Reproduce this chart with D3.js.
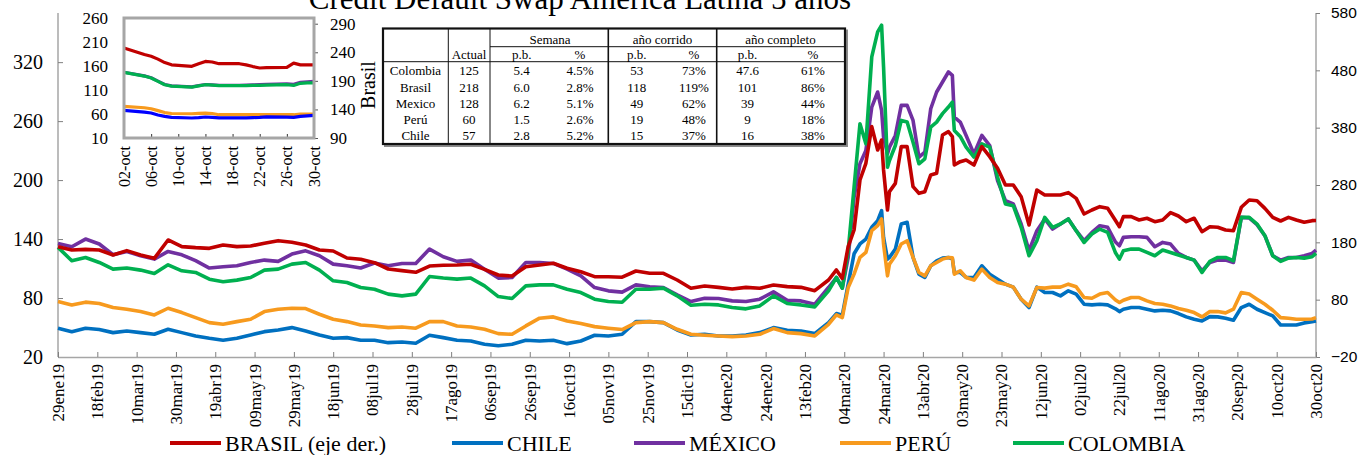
<!DOCTYPE html>
<html><head><meta charset="utf-8">
<script src="https://cdn.jsdelivr.net/npm/d3@7"></script>
<style>
body{margin:0;background:#fff}
svg{display:block}
text{font-family:"Liberation Serif","Times New Roman",serif;fill:#000}
</style>
</head><body>
<svg id="c" width="1360" height="455"></svg>
<script>
// ---------- DATA ----------
const dates = [
"2019-01-29","2019-02-05","2019-02-12","2019-02-19","2019-02-26","2019-03-05","2019-03-12","2019-03-19","2019-03-26","2019-04-02","2019-04-09","2019-04-16","2019-04-23","2019-04-30","2019-05-07","2019-05-14","2019-05-21","2019-05-28","2019-06-04","2019-06-11","2019-06-18",
"2019-06-25","2019-07-02","2019-07-09","2019-07-16","2019-07-23","2019-07-30","2019-08-06","2019-08-13","2019-08-20","2019-08-27","2019-09-03","2019-09-10","2019-09-17","2019-09-24","2019-10-01","2019-10-08","2019-10-15","2019-10-22","2019-10-29","2019-11-05","2019-11-12",
"2019-11-19","2019-11-26","2019-12-03","2019-12-10","2019-12-17","2019-12-24","2019-12-31","2020-01-07","2020-01-14","2020-01-21","2020-01-28","2020-02-04","2020-02-11","2020-02-18","2020-02-25","2020-02-29","2020-03-03",
"2020-03-06","2020-03-09","2020-03-12","2020-03-15","2020-03-18","2020-03-21","2020-03-23","2020-03-24","2020-03-26","2020-03-27","2020-03-30","2020-04-02","2020-04-05","2020-04-08","2020-04-11","2020-04-14","2020-04-17","2020-04-20","2020-04-23","2020-04-26","2020-04-28","2020-04-29","2020-05-02","2020-05-05","2020-05-09","2020-05-13","2020-05-17","2020-05-21","2020-05-25","2020-05-29","2020-06-02","2020-06-06","2020-06-10","2020-06-14","2020-06-18","2020-06-22","2020-06-26","2020-06-30","2020-07-04","2020-07-08","2020-07-12","2020-07-16","2020-07-20","2020-07-22",
"2020-07-24","2020-07-28","2020-08-01","2020-08-05","2020-08-09","2020-08-13","2020-08-17","2020-08-21","2020-08-25","2020-08-29","2020-09-02","2020-09-06","2020-09-10","2020-09-14","2020-09-18","2020-09-22","2020-09-26","2020-09-30","2020-10-04","2020-10-08","2020-10-12","2020-10-16","2020-10-20","2020-10-24","2020-10-28","2020-10-30"
];
// Brasil (right axis)
const brasil = [
172.5,166.6,167.8,166.6,157.9,165.5,157.9,152.1,184.1,172.5,170.7,169.5,175.4,172.5,173.6,178.3,182.9,180,175.4,166.6,164.9,
152.7,150.4,144.5,133.5,130.6,127.7,138.7,139.9,140.5,141.7,132.9,123,121.3,137.5,140.5,143.4,134.7,128.8,120.1,120.1,119.2,
130,126,126,114.3,99.8,103.8,101.5,98.6,101.5,99.8,105.6,102.7,101.5,95.7,114.3,131.8,117.2,
172.5,201.5,288.7,317.8,381.8,341,358.5,306.2,236.4,268.4,282.9,346.9,346.9,277.1,265.5,268.4,297.5,300.4,367.2,373,364.3,314.9,320.7,323.6,314.9,346.9,329.4,309.1,280,280,259.7,210.2,271.3,262.6,262.6,262.6,266.7,256.7,229.4,236.4,242.2,239.3,218,207.3,
224.8,224.8,219,222,216,219,231.7,225.9,216,222,198.6,207.3,206.2,201.5,200.3,241.1,253.9,252.6,239.3,223.6,217.2,223.6,219,214.9,217.8,218
];
const chile = [
49.3,45.8,49.3,47.9,44.8,46.5,44.8,43.1,48.2,44.8,41.4,39,37,39,42.4,45.8,47.5,49.9,46.5,42.4,39,
39.7,37,37,34.6,35.3,34,42.1,39.7,37,36.3,32.9,31.5,32.9,37,36.3,37,33.6,36.3,42.1,41.4,43.1,
56,56,55,47.5,42.4,43.1,41.4,41.4,42.4,44.8,49.9,47.2,46.5,43.8,55,64.2,62.5,
94.1,125,135,140,152,158.7,168.9,141.7,119.6,121.3,129.8,155.3,157,121.3,104.3,100.9,112.8,117.9,120.6,121.3,120,106,106,100.9,100.9,112.8,104.3,99.2,94.1,91.1,78.8,70.3,91.1,85.6,85.6,82.2,87.3,84,73.7,73,73.7,73,69,66.2,
68.6,70.3,70.3,68.6,66.9,67.6,66.9,64.2,60.8,58.4,56.7,61.1,60.8,59.5,57.4,70.3,73.7,68.6,65.2,61.8,52.6,52.6,52.6,54.7,56,56.7
];
const mexico = [
135.6,132.2,140,135,124,127.4,123,119.6,127.4,124,118,110.5,111.8,112.8,116.2,118.6,117.3,124.7,128,123,114.5,
112.8,110.5,115.6,112.8,115.2,115.2,129.8,122,117.3,118.6,109.4,100.3,100.9,116.2,116.2,115.2,109.4,102.6,90.7,87.3,86,
93.4,91.4,90.7,83.2,76.4,79.8,79.5,77.1,76.4,78.8,86.3,77.8,77.1,73.7,90.7,100.9,90,
121.3,182.5,216.6,230.1,274.3,289.6,270.9,243.7,226.7,233.5,245.4,276,276,260.7,223.3,228.4,272.6,289.6,299.8,310,306.6,264.1,259,245.4,226.7,245.4,235.2,199.5,179.1,175.7,155.3,128.1,148.5,160.4,150.2,155.3,160.4,148.5,138.3,146.8,153.6,151.9,137,133.2,
141.7,142.4,142.4,141.7,132.2,136.6,134.9,125.4,121.3,118.6,107.7,116.2,118.6,118.6,116.2,162.1,161.5,154.6,143.4,123,118.6,121.3,121.3,123,125.4,128.8
];
const peru = [
76.4,73,75.8,74.4,70.3,68.6,66.2,62.8,69.6,65.2,60.1,55,53.3,56,58.4,66.2,68.6,69.6,69.3,63.5,58.4,
56,52.6,51.6,49.9,50.6,49.3,56,56,51.6,50.6,48.2,43.8,43.1,51.6,59.5,60.8,56.7,54,50.9,49.3,47.9,
55,56,55,48.2,43.1,42.1,41.4,40.7,41.4,43.1,48.9,44.8,43.8,41.4,53.3,62.8,60.1,
90.7,104.3,121.3,126.4,148.5,153.6,160.4,135,102.6,114.5,123,135,138.3,121.3,106,102.6,112.8,116.2,119.6,121.3,121,104.3,107.7,100.9,98.2,109.4,100.9,95.8,94.1,91.1,78.8,72,90.7,90.1,91.1,91.1,94.1,91.4,80.5,79.8,84,85.6,78,75.4,
77.8,80.5,80.5,77.1,74.4,73.7,72,69.3,67.6,65.2,60.8,66.2,66.2,64.9,68.6,85.6,84,78.8,73.7,67.6,60.1,59.5,58.4,58.4,58.7,60.1
];
const colombia = [
131.5,118,121.3,116.2,109.4,110.5,108.4,105,113.8,107.7,106,99.2,96.5,98.2,100.9,108.4,109.4,114.5,116.2,108.4,97.5,
95.8,90.7,89,84,82.2,84,101.9,100.3,99.2,100.3,92.4,81.5,79.5,92.4,93.4,93.4,89,85.6,78.8,76.4,75.7,
89,89,90.1,82.2,72.7,73.7,73,70.3,69,72,82.2,74.4,73,71,87.3,100.9,90,
128.1,192.7,257.3,236.9,325.3,350.8,357.6,315.1,213.1,219.9,235.2,260.7,259,238.6,216.6,221.7,253.9,259,267.6,274.3,279.4,250.5,244.4,233.5,223.3,236.9,233.5,202.9,175.7,174,151.9,123,138.3,162.1,151.9,155.3,160.4,148.5,136.6,145.1,150.2,146.8,126,119.6,
128.1,129.8,129.8,126.4,123,128.8,126.4,123.7,121.3,118.6,106,117.3,121.3,121.3,117.9,162.1,162.1,155.3,143.4,123,117.3,120.6,121.3,120.6,122,125.4
];
const xTickDates = ["2019-01-29","2019-02-18","2019-03-10","2019-03-30","2019-04-19","2019-05-09","2019-05-29","2019-06-18","2019-07-08","2019-07-28","2019-08-17","2019-09-06","2019-09-26","2019-10-16","2019-11-05","2019-11-25","2019-12-15","2020-01-04","2020-01-24","2020-02-13","2020-03-04","2020-03-24","2020-04-13","2020-05-03","2020-05-23","2020-06-12","2020-07-02","2020-07-22","2020-08-11","2020-08-31","2020-09-20","2020-10-10","2020-10-30"];
const xTickLabels = ["29ene19","18feb19","10mar19","30mar19","19abr19","09may19","29may19","18jun19","08jul19","28jul19","17ago19","06sep19","26sep19","16oct19","05nov19","25nov19","15dic19","04ene20","24ene20","13feb20","04mar20","24mar20","13abr20","03may20","23may20","12jun20","02jul20","22jul20","11ago20","31ago20","20sep20","10oct20","30oct20"];
const leftTicks = [20,80,140,200,260,320];
const rightTicks = [-20,80,180,280,380,480,580];

// inset (October 2020)
const insetDates = ["2020-10-02","2020-10-05","2020-10-06","2020-10-07","2020-10-08","2020-10-09","2020-10-12","2020-10-13","2020-10-14","2020-10-15","2020-10-16","2020-10-19","2020-10-20","2020-10-21","2020-10-22","2020-10-23","2020-10-26","2020-10-27","2020-10-28","2020-10-29","2020-10-30"];
const insBrasil = [247.5,236,233,228,222,218,215.5,220,224,223,220,220,218,215,212.5,213,213.5,221,218,218,218];
const insColombia = [146.7,139,135,128,121,118,116,118.5,121,120,119,119,119,119.5,119.5,120,121,119.5,124,125,125];
const insMexico = [147,139.5,135.5,128.5,121.5,118.5,116.5,119,121.5,120.5,119.5,119.5,120,120.5,121,121.8,123,122,126,127,128];
const insPeru = [75.8,73,71,67,63,61,60.5,61.5,62,61,58.5,58.5,58.5,59,58.5,58.5,59,58.5,60,60,60];
const insChile = [67.5,64,62,58,55,53,51.7,52.5,53.7,53,52,52,52,52.5,53,54.2,53.5,53,55,56,57];
const insTickDates = ["2020-10-02","2020-10-06","2020-10-10","2020-10-14","2020-10-18","2020-10-22","2020-10-26","2020-10-30"];
const insTickLabels = ["02-oct","06-oct","10-oct","14-oct","18-oct","22-oct","26-oct","30-oct"];
const insLeftTicks = [10,60,110,160,210,260];
const insRightTicks = [90,140,190,240,290];

// table
const tblRows = ["Colombia","Brasil","Mexico","Perú","Chile"];
const tblActual = ["125","218","128","60","57"];
const tblSemPb = ["5.4","6.0","6.2","1.5","2.8"];
const tblSemPct = ["4.5%","2.8%","5.1%","2.6%","5.2%"];
const tblYtdPb = ["53","118","49","19","15"];
const tblYtdPct = ["73%","119%","62%","48%","37%"];
const tblYoyPb = ["47.6","101","39","9","16"];
const tblYoyPct = ["61%","86%","44%","18%","38%"];

const legendNames = ["BRASIL (eje der.)","CHILE","MÉXICO","PERÚ","COLOMBIA"];

// ---------- DRAW ----------
const parse = d3.utcParse("%Y-%m-%d");
const svg = d3.select("#c");
svg.append("rect").attr("width",1360).attr("height",455).attr("fill","#fff");

const colors = {brasil:"#C00000", chile:"#0070C0", mexico:"#7030A0", peru:"#F79A1E", colombia:"#00B050"};

const X0=58, X1=1316, Y0=357, Y1=13;
const x = d3.scaleUtc().domain([parse("2019-01-29"), parse("2020-10-30")]).range([X0,X1]);
const yL = d3.scaleLinear().domain([20,370]).range([Y0,Y1]);
const yR = d3.scaleLinear().domain([-20,580]).range([Y0,Y1]);

// title
svg.append("text").attr("x",580).attr("y",9).attr("text-anchor","middle")
  .style("font-size","31px").text("Credit Default Swap America Latina 5 años");

// axes
const gL = svg.append("g").attr("transform",`translate(${X0},0)`)
  .call(d3.axisLeft(yL).tickValues(leftTicks).tickSizeInner(-5).tickSizeOuter(0).tickPadding(15));
gL.selectAll("text").style("font-size","20px").style("font-family","'Liberation Serif',serif");
const gR = svg.append("g").attr("transform",`translate(${X1},0)`)
  .call(d3.axisRight(yR).tickValues(rightTicks).tickSizeInner(4).tickSizeOuter(0).tickPadding(11));
gR.selectAll("text").style("font-size","15.5px").style("font-family","'Liberation Sans',Arial,sans-serif");
const gB = svg.append("g").attr("transform",`translate(0,${Y0})`)
  .call(d3.axisBottom(x).tickValues(xTickDates.map(parse)).tickSizeInner(-5).tickSizeOuter(0).tickFormat(""));
[gL,gR,gB].forEach(g=>{
  g.select(".domain").attr("stroke","#a6a6a6").attr("stroke-width",1.5);
  g.selectAll(".tick line").attr("stroke","#7f7f7f");
});
gL.select(".domain").attr("d",`M0,${Y1}V${Y0}`);
gR.select(".domain").attr("d",`M0,${Y1}V${Y0}`);

svg.append("g").selectAll("text").data(xTickDates).join("text")
  .attr("transform",(d)=>`translate(${x(parse(d))},364) rotate(-90)`)
  .attr("text-anchor","end").attr("dy","0.35em")
  .style("font-size","17px")
  .text((d,i)=>xTickLabels[i]);

// series
const pts = arr => arr.map((v,i)=>({d:parse(dates[i]), v}));
const lineL = d3.line().x(p=>x(p.d)).y(p=>yL(p.v));
const lineR = d3.line().x(p=>x(p.d)).y(p=>yR(p.v));
const seriesL = [["chile",chile],["mexico",mexico],["peru",peru],["colombia",colombia]];
seriesL.forEach(([k,arr])=>{
  svg.append("path").attr("d",lineL(pts(arr))).attr("fill","none")
    .attr("stroke",colors[k]).attr("stroke-width",3.6).attr("stroke-linejoin","round");
});
svg.append("path").attr("d",lineR(pts(brasil))).attr("fill","none")
  .attr("stroke",colors.brasil).attr("stroke-width",3.6).attr("stroke-linejoin","round");

// ---------- INSET ----------
const IX0=124, IX1=314, IY0=138, IY1=18;
const xi = d3.scaleUtc().domain([parse(insetDates[0]), parse(insetDates[insetDates.length-1])]).range([IX0,IX1]);
const yiL = d3.scaleLinear().domain([10,260]).range([IY0,IY1]);
const yiR = d3.scaleLinear().domain([90,300]).range([IY0,IY1]);
svg.append("rect").attr("x",IX0).attr("y",IY1).attr("width",IX1-IX0).attr("height",IY0-IY1).attr("fill","#fff");
const gi = svg.append("g");
gi.append("g").attr("transform",`translate(${IX0},0)`)
  .call(d3.axisLeft(yiL).tickValues(insLeftTicks).tickSizeInner(0).tickSizeOuter(0).tickPadding(16))
  .call(g=>g.select(".domain").remove())
  .selectAll("text").style("font-size","17px").style("font-family","'Liberation Serif',serif");
const giR = gi.append("g").attr("transform",`translate(${IX1},0)`)
  .call(d3.axisRight(yiR).tickValues(insRightTicks).tickSizeInner(4).tickSizeOuter(0).tickPadding(12));
giR.select(".domain").remove();
giR.selectAll(".tick line").attr("stroke","#555");
giR.selectAll("text").style("font-size","17px").style("font-family","'Liberation Serif',serif");
const giB = gi.append("g").attr("transform",`translate(0,${IY0})`)
  .call(d3.axisBottom(xi).tickValues(insTickDates.map(parse)).tickSizeInner(-4).tickSizeOuter(0).tickFormat(""));
giB.select(".domain").remove();
giB.selectAll(".tick line").attr("stroke","#333");
gi.append("g").selectAll("text").data(insTickDates).join("text")
  .attr("transform",d=>`translate(${xi(parse(d))},146) rotate(-90)`)
  .attr("text-anchor","end").attr("dy","0.35em").style("font-size","16px")
  .text((d,i)=>insTickLabels[i]);
gi.append("text").attr("transform","translate(368,85) rotate(-90)").attr("text-anchor","middle")
  .attr("dy","0.35em").style("font-size","20px").text("Brasil");

const ip = arr => arr.map((v,i)=>({d:parse(insetDates[i]), v}));
const iLineL = d3.line().x(p=>xi(p.d)).y(p=>yiL(p.v));
const iLineR = d3.line().x(p=>xi(p.d)).y(p=>yiR(p.v));
[[insMexico,colors.mexico],[insColombia,colors.colombia],[insPeru,"#F79A1E"],[insChile,"#0000FF"]].forEach(([arr,c])=>{
  gi.append("path").attr("d",iLineL(ip(arr))).attr("fill","none").attr("stroke",c).attr("stroke-width",3.2).attr("stroke-linejoin","round");
});
gi.append("path").attr("d",iLineR(ip(insBrasil))).attr("fill","none").attr("stroke",colors.brasil).attr("stroke-width",3.2).attr("stroke-linejoin","round");
gi.append("rect").attr("x",IX0).attr("y",IY1).attr("width",IX1-IX0).attr("height",IY0-IY1)
  .attr("fill","none").attr("stroke","#a6a6a6").attr("stroke-width",3);

// ---------- TABLE ----------
const T = {x0:383, x1:845, y0:28.5, y1:144};
const tg = svg.append("g");
tg.append("rect").attr("x",T.x0+2).attr("y",T.y0+2).attr("width",T.x1-T.x0).attr("height",T.y1-T.y0)
  .attr("fill","none").attr("stroke","#8c8c8c").attr("stroke-width",2);
tg.append("rect").attr("x",T.x0).attr("y",T.y0).attr("width",T.x1-T.x0).attr("height",T.y1-T.y0)
  .attr("fill","#fff").attr("stroke","#111").attr("stroke-width",2.2);
const vlines = [[448.3,1],[490,1],[608.3,1.6],[716.7,1.6]];
vlines.forEach(([vx,w])=>tg.append("line").attr("x1",vx).attr("x2",vx).attr("y1",T.y0).attr("y2",T.y1).attr("stroke","#111").attr("stroke-width",w));
tg.append("line").attr("x1",490).attr("x2",T.x1).attr("y1",46.7).attr("y2",46.7).attr("stroke","#111").attr("stroke-width",1);
tg.append("line").attr("x1",T.x0).attr("x2",T.x1).attr("y1",61.7).attr("y2",61.7).attr("stroke","#111").attr("stroke-width",1);
const tt = (tx,ty,s)=>tg.append("text").attr("x",tx).attr("y",ty).attr("text-anchor","middle").style("font-size","13px").text(s);
tt(550,43.5,"Semana"); tt(662.5,43.5,"año corrido"); tt(780.5,43.5,"año completo");
const colX = [469,521.7,580,636.7,694,747.5,813];
["Actual","p.b.","%","p.b.","%","p.b.","%"].forEach((s,i)=>tt(colX[i],58.5,s));
const cols = [tblActual,tblSemPb,tblSemPct,tblYtdPb,tblYtdPct,tblYoyPb,tblYoyPct];
tblRows.forEach((r,i)=>{
  const by = 75.3 + 16.25*i;
  tt(415.5,by,r);
  cols.forEach((c,j)=>tt(colX[j],by,c[i]));
});

// ---------- LEGEND ----------
const legKeys = ["brasil","chile","mexico","peru","colombia"];
const legX = [170,452,634,840,1013];
legKeys.forEach((k,i)=>{
  svg.append("line").attr("x1",legX[i]).attr("x2",legX[i]+51).attr("y1",443).attr("y2",443)
    .attr("stroke",colors[k]).attr("stroke-width",4);
  svg.append("text").attr("x",legX[i]+55).attr("y",451).style("font-size","22px").text(legendNames[i]);
});
</script>
</body></html>
